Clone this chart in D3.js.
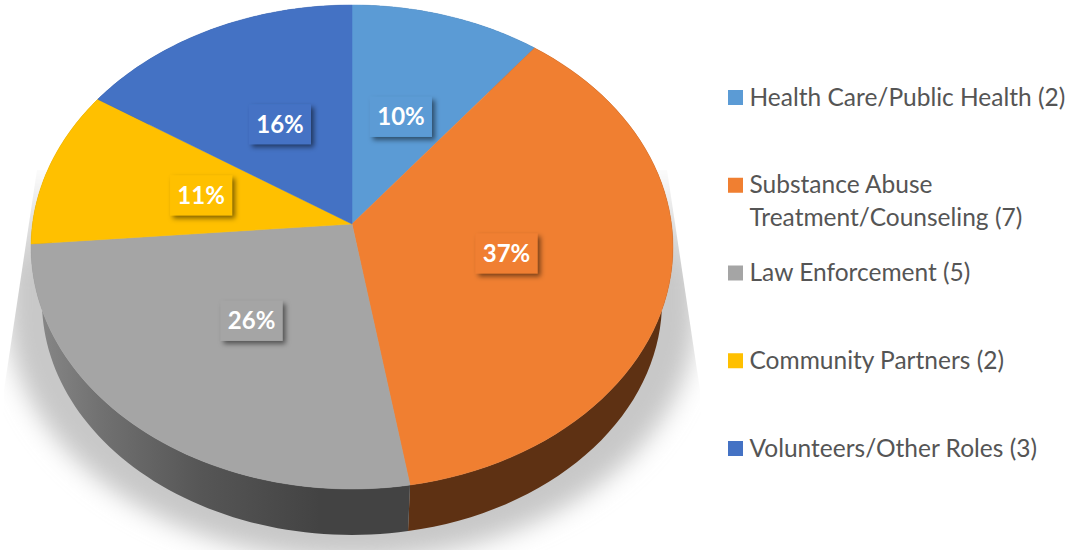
<!DOCTYPE html>
<html>
<head>
<meta charset="utf-8">
<script src="https://cdn.jsdelivr.net/npm/d3@7"></script>
<style>
  html, body { margin: 0; padding: 0; background: #fff; }
  svg { display: block; font-family: Lato, "Open Sans", sans-serif; }
</style>
</head>
<body>
<div id="chart"></div>
<script>
const categories = ["Health Care/Public Health", "Substance Abuse\nTreatment/Counseling", "Law Enforcement", "Community Partners", "Volunteers/Other Roles"];
const counts = [2, 7, 5, 2, 3];
const percentLabels = ["10%", "37%", "26%", "11%", "16%"];
const colors = ["#5B9BD5", "#F07F31", "#A5A5A5", "#FFC000", "#4472C4"];
const sideColors = ["#37608a", "#5e3113", "url(#graySide)", "#9c7600", "#2a4678"];

const width = 1072, height = 550;

// pie sits on a tilted plane, so the circle is pushed through a perspective projection
const cx = 352, cy = 224;
const rx = 319.5, ry = 239.8, tilt = 0.095;
const depth = 55, baseScale = 0.966;
const labelRadius = 0.493;

function project(angle, r, scale, drop) {
  const x = Math.sin(angle) * r, y = -Math.cos(angle) * r;
  const w = 1 - tilt * y;
  return [cx + scale * rx * x / w, cy + drop + scale * ry * y / w];
}
const topPoint = (a, r = 1) => project(a, r, 1, 0);
const basePoint = (a) => project(a, 1, baseScale, depth);

const line = d3.line();
const samples = (a0, a1) => d3.range(0, 61).map(i => a0 + (a1 - a0) * i / 60);

const pie = d3.pie().sort(null)(counts);

const svg = d3.select("#chart").append("svg")
  .attr("width", width)
  .attr("height", height);

const defs = svg.append("defs");
defs.append("filter").attr("id", "floorBlur")
  .attr("x", "-20%").attr("y", "-20%").attr("width", "140%").attr("height", "140%")
  .append("feGaussianBlur").attr("stdDeviation", 12);

const labelShadow = defs.append("filter").attr("id", "labelShadow")
  .attr("x", "-20%").attr("y", "-30%").attr("width", "150%").attr("height", "170%");
labelShadow.append("feDropShadow")
  .attr("dx", 3).attr("dy", 3).attr("stdDeviation", 2.4)
  .attr("flood-color", "#000").attr("flood-opacity", 0.5);

const grad = defs.append("linearGradient").attr("id", "graySide")
  .attr("gradientUnits", "userSpaceOnUse")
  .attr("x1", 35).attr("x2", 320).attr("y1", 0).attr("y2", 0);
grad.append("stop").attr("offset", 0).attr("stop-color", "#888888");
grad.append("stop").attr("offset", 0.23).attr("stop-color", "#717171");
grad.append("stop").attr("offset", 0.58).attr("stop-color", "#565656");
grad.append("stop").attr("offset", 1).attr("stop-color", "#434343");

const floorGrad = defs.append("linearGradient").attr("id", "floorFade")
  .attr("gradientUnits", "userSpaceOnUse")
  .attr("x1", 0).attr("x2", 0).attr("y1", 165).attr("y2", 270);
floorGrad.append("stop").attr("offset", 0).attr("stop-color", "#c8c8c8").attr("stop-opacity", 0);
floorGrad.append("stop").attr("offset", 1).attr("stop-color", "#c8c8c8").attr("stop-opacity", 1);

// soft shadow on the floor, cut off by a straight fan at the upper edges
defs.append("clipPath").attr("id", "floorClip")
  .append("path")
  .attr("d", line([[37, 170], [4, 390], [0, 550], [704, 550], [700, 390], [667, 170]]) + "Z");

const floorOutline = [[cx - 345, 130], [cx + 345, 130]]
  .concat(samples(Math.PI / 2, Math.PI * 1.5).map(a => [cx + 345 * Math.sin(a), 310 - 250 * Math.cos(a)]));

svg.append("g").attr("clip-path", "url(#floorClip)")
  .append("path")
  .attr("d", line(floorOutline) + "Z")
  .attr("fill", "url(#floorFade)")
  .attr("filter", "url(#floorBlur)");

// side wall
svg.append("g").selectAll("path")
  .data(pie)
  .join("path")
  .attr("d", d => {
    const t = samples(d.startAngle, d.endAngle);
    return line(t.map(a => topPoint(a)).concat(t.slice().reverse().map(a => basePoint(a)))) + "Z";
  })
  .attr("fill", (d, i) => sideColors[i]);

// top face
svg.append("g").selectAll("path")
  .data(pie)
  .join("path")
  .attr("d", d => line([[cx, cy]].concat(samples(d.startAngle, d.endAngle).map(a => topPoint(a)))) + "Z")
  .attr("fill", (d, i) => colors[i])
  .attr("stroke", (d, i) => colors[i])
  .attr("stroke-width", 0.5);

// percent labels
const labels = svg.append("g").selectAll("g")
  .data(pie)
  .join("g")
  .attr("transform", d => "translate(" + topPoint((d.startAngle + d.endAngle) / 2, labelRadius) + ")");

labels.append("rect")
  .attr("x", -31).attr("y", -20)
  .attr("width", 62).attr("height", 40)
  .attr("fill", (d, i) => colors[i])
  .attr("filter", "url(#labelShadow)");

labels.append("text")
  .attr("text-anchor", "middle")
  .attr("dy", 8.5)
  .attr("font-size", 24)
  .attr("font-weight", 700)
  .attr("fill", "#fff")
  .text((d, i) => percentLabels[i]);

// legend
const legendY = d3.scalePoint().domain(categories).range([97.5, 448.5]);

const legend = svg.append("g").selectAll("g")
  .data(categories)
  .join("g")
  .attr("transform", d => "translate(728," + legendY(d) + ")");

legend.append("rect")
  .attr("y", -7.5)
  .attr("width", 15).attr("height", 15)
  .attr("fill", (d, i) => colors[i]);

legend.append("text")
  .attr("font-size", 24.5)
  .attr("fill", "#555")
  .each(function(d, i) {
    const rows = d.split("\n");
    d3.select(this).selectAll("tspan")
      .data(rows)
      .join("tspan")
      .attr("x", 21.5)
      .attr("y", (r, j) => 8 + j * 33)
      .text((r, j) => j == rows.length - 1 ? r + " (" + counts[i] + ")" : r);
  });
</script>
</body>
</html>
